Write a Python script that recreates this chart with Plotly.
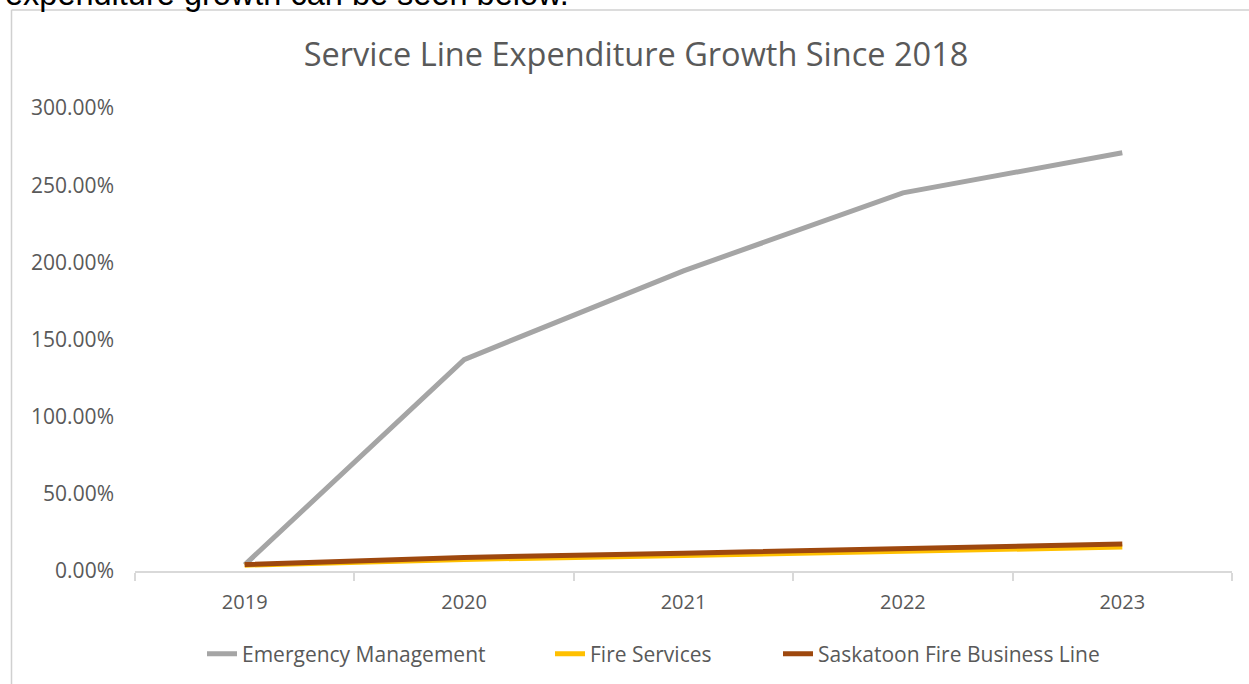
import plotly.graph_objects as go

years = ["2019", "2020", "2021", "2022", "2023"]
emergency_mgmt = [4.0, 137.0, 194.5, 245.0, 271.0]
fire_services = [3.8, 7.5, 10.0, 12.5, 15.5]
saskatoon_fire = [4.2, 8.8, 11.5, 14.2, 17.5]
y_ticks = [0, 50, 100, 150, 200, 250, 300]
y_tick_labels = ["0.00%", "50.00%", "100.00%", "150.00%", "200.00%", "250.00%", "300.00%"]

W, H = 1249, 684
FONT = "Open Sans"
TXT = "#595959"

def px(x):
    return x / W

def py(y):
    return 1 - y / H

fig = go.Figure()
series = [
    ("Emergency Management", emergency_mgmt, "#A5A5A5", "legend", 242),
    ("Fire Services", fire_services, "#FFC000", "legend2", 590),
    ("Saskatoon Fire Business Line", saskatoon_fire, "#9E480E", "legend3", 818),
]
legend_layout = {}
for name, vals, col, lg, text_x in series:
    fig.add_trace(go.Scatter(x=years, y=vals, name=name, mode="lines", legend=lg,
                             line=dict(color=col, width=5)))
    legend_layout[lg] = dict(orientation="h", x=px(text_x - 40), xanchor="left",
                             y=py(654), yanchor="middle",
                             font=dict(size=21, color=TXT, family=FONT),
                             bgcolor="rgba(0,0,0,0)")

fig.update_layout(
    width=W, height=H,
    margin=dict(l=0, r=0, t=0, b=0, autoexpand=False),
    paper_bgcolor="white", plot_bgcolor="white",
    font=dict(family=FONT, color=TXT),
    showlegend=True,
    title=dict(text="Service Line Expenditure Growth Since 2018", x=px(636), xanchor="center",
               y=py(55), yanchor="middle", font=dict(size=32.5, color=TXT, family=FONT)),
    xaxis=dict(domain=[px(135), px(1232)], type="category", range=[-0.5, 4.5],
               automargin=False,
               showline=True, linecolor="#D9D9D9", linewidth=1.5,
               ticks="outside", tickson="boundaries", ticklen=8, tickcolor="#D9D9D9",
               tickwidth=1.5, showgrid=False, zeroline=False,
               tickfont=dict(size=20, color=TXT, family=FONT), ticklabelstandoff=12),
    yaxis=dict(domain=[py(571), py(108)], range=[0, 300], tickvals=y_ticks,
               automargin=False,
               ticktext=y_tick_labels, showgrid=False, zeroline=False, showline=False,
               tickfont=dict(size=21, color=TXT, family=FONT), ticklabelstandoff=20),
    **legend_layout,
)

# chart border
fig.add_shape(type="line", xref="paper", yref="paper", x0=px(11.5), x1=px(11.5),
              y0=py(10), y1=py(700), line=dict(color="#D0D0D0", width=1.5))
fig.add_shape(type="line", xref="paper", yref="paper", x0=px(11.5), x1=px(1260),
              y0=py(10), y1=py(10), line=dict(color="#D0D0D0", width=1.5))

# surrounding document text, cut off at the top
fig.add_annotation(text="expenditure growth can be seen below.", xref="paper", yref="paper",
                   x=px(3), xanchor="left", y=py(14), yanchor="bottom", showarrow=False,
                   font=dict(family="Liberation Sans", size=32.5, color="black"))

fig.write_html("out.html")
